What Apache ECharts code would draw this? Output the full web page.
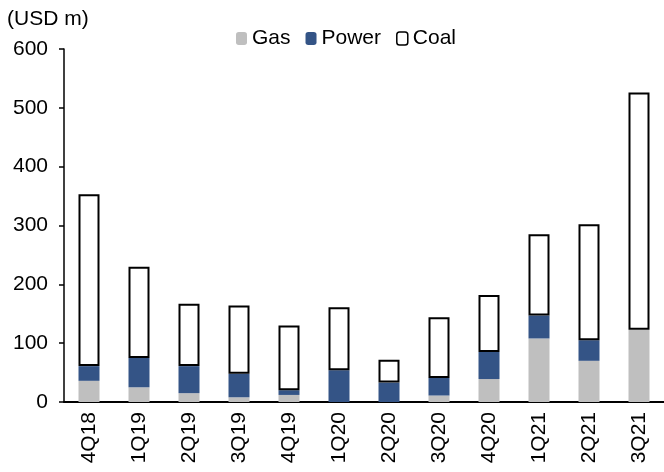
<!DOCTYPE html>
<html>
<head>
<meta charset="utf-8">
<script src="https://cdn.jsdelivr.net/npm/echarts@6/dist/echarts.min.js"></script>
<style>
  html, body { margin: 0; padding: 0; background: #fff; }
  #chart { width: 664px; height: 472px; }
</style>
</head>
<body>
<div id="chart"></div>
<script>
// Quarterly spend by segment, USD m
const quarters = ['4Q18', '1Q19', '2Q19', '3Q19', '4Q19', '1Q20', '2Q20', '3Q20', '4Q20', '1Q21', '2Q21', '3Q21'];
const gas   = [36, 25, 15, 8, 12, 0, 0, 11, 39, 108, 70, 123];
const power = [25, 50, 46, 40, 8, 54, 33, 30, 46, 39, 35, 0];
const coal  = [292, 155, 106, 116, 110, 107, 39, 103, 97, 138, 197, 403];
const yTicks = [0, 100, 200, 300, 400, 500, 600];

const FONT = '"Liberation Sans", Arial, sans-serif';
const chart = echarts.init(document.getElementById('chart'));

chart.setOption({
  animation: false,
  backgroundColor: '#ffffff',
  textStyle: { fontFamily: FONT, color: '#000' },
  graphic: [{
    type: 'text', left: 7, top: 9,
    style: { text: '(USD m)', font: '21px ' + FONT, fill: '#000' }
  }],
  legend: {
    left: 231, top: 23,
    itemWidth: 11, itemHeight: 13, itemGap: 15,
    textStyle: { fontSize: 21, fontFamily: FONT, color: '#000' },
    data: [
      { name: 'Gas' },
      { name: 'Power' },
      { name: 'Coal', itemStyle: { borderWidth: 1.5 } }
    ]
  },
  grid: { left: 64, right: -2, top: 49, bottom: 70 },
  xAxis: {
    type: 'category',
    data: quarters,
    axisLine: { lineStyle: { color: '#000', width: 2 } },
    axisTick: { length: 7, lineStyle: { color: '#000', width: 1.5 } },
    axisLabel: { rotate: 90, margin: 10, fontSize: 21, fontFamily: FONT, color: '#000' }
  },
  yAxis: {
    type: 'value',
    min: yTicks[0], max: yTicks[yTicks.length - 1], interval: 100,
    splitLine: { show: false },
    axisLine: { show: true, lineStyle: { color: '#000', width: 1.5 } },
    axisTick: { show: true, length: 5, lineStyle: { color: '#000', width: 1.5 } },
    axisLabel: { margin: 16, fontSize: 21, fontFamily: FONT, color: '#000' }
  },
  series: [
    {
      name: 'Gas', type: 'bar', stack: 'total', barWidth: 21,
      itemStyle: { color: '#bfbfbf' },
      data: gas
    },
    {
      name: 'Power', type: 'bar', stack: 'total', barWidth: 21,
      itemStyle: { color: '#345486' },
      data: power
    },
    {
      name: 'Coal', type: 'bar', stack: 'total', barWidth: 21,
      itemStyle: { color: '#ffffff', borderColor: '#000', borderWidth: 2 },
      data: coal
    }
  ]
});
</script>
</body>
</html>
